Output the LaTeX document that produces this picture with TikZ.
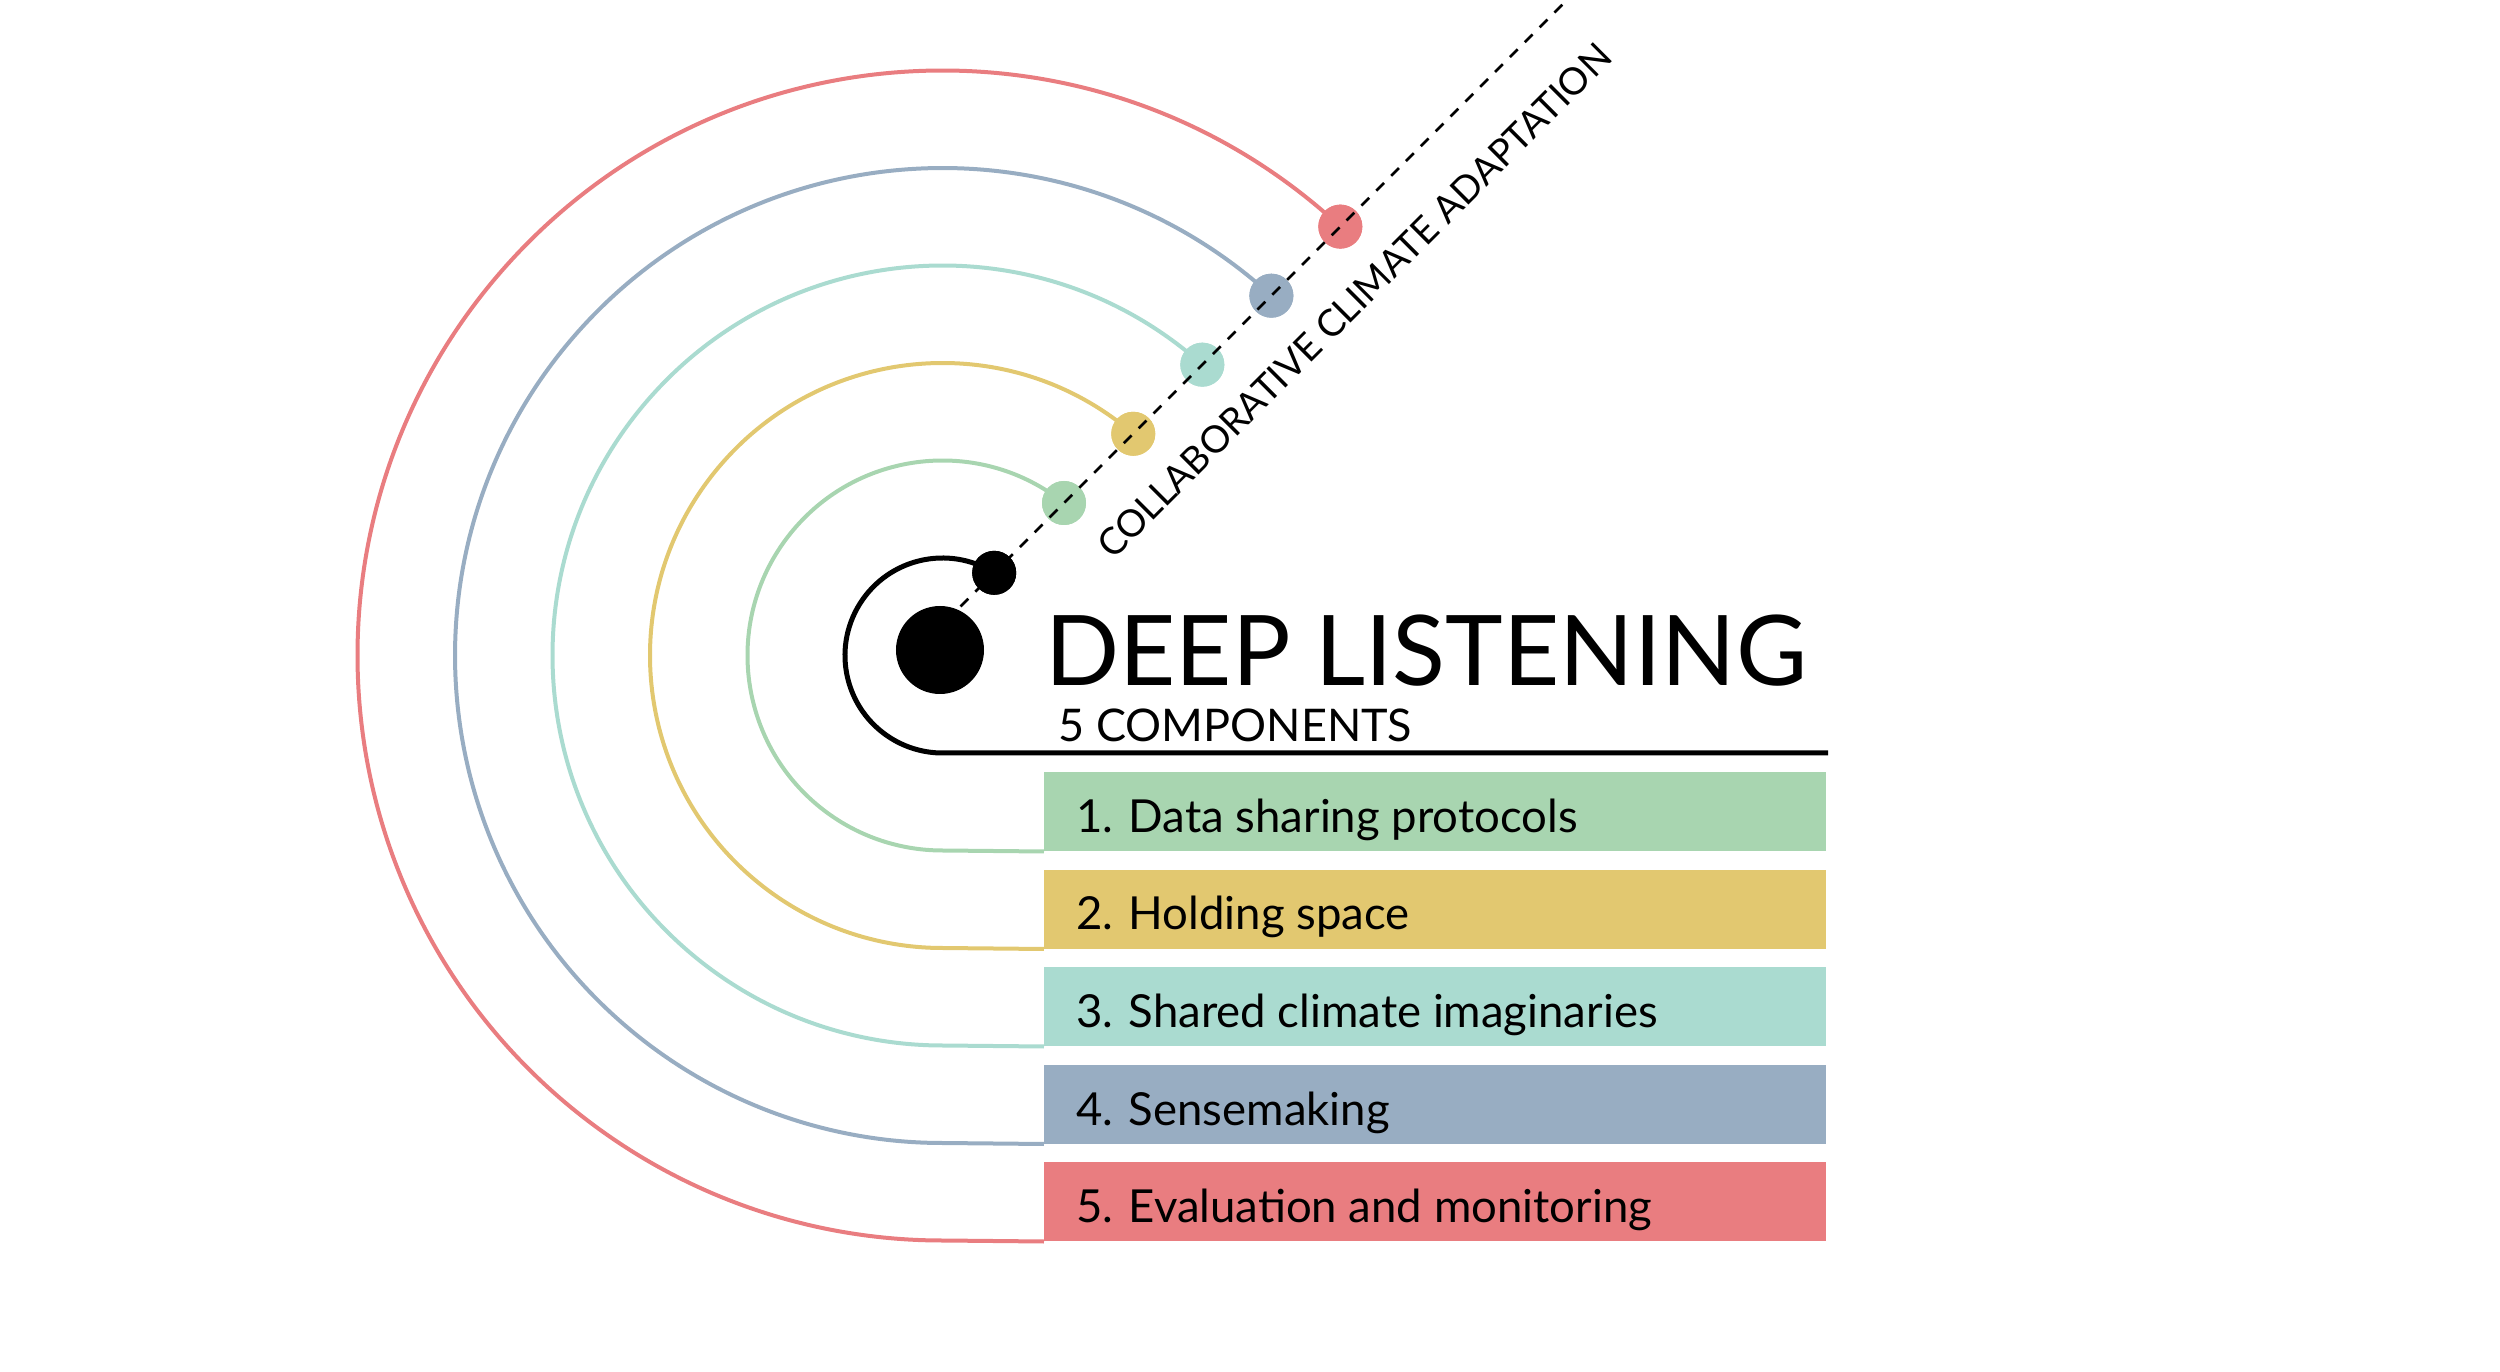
\documentclass[tikz,border=0pt]{standalone}
\usepackage{fontspec}
\setmainfont{Lato}
\definecolor{cgreen}{HTML}{A8D5B0}
\definecolor{cyellow}{HTML}{E2C870}
\definecolor{cteal}{HTML}{AADBD0}
\definecolor{cblue}{HTML}{98ADC2}
\definecolor{cred}{HTML}{E97D80}
\begin{document}
\begin{tikzpicture}[x=1pt,y=1pt,
  arcline/.style={line width=4pt},
  dotstyle/.style={circle, inner sep=0pt, minimum size=44pt},
  compbox/.style={rectangle, inner sep=0pt, minimum width=782pt, minimum height=79pt, anchor=south west},
  boxtext/.style={anchor=base west, inner sep=0pt, font=\fontsize{45.5}{50}\selectfont},
  dashline/.style={line width=2.5pt, dash pattern=on 11pt off 10pt}]
\useasboundingbox (-942.5,-716.5) rectangle (1557.5,655.5);

% big central dot
\node[circle, fill=black, inner sep=0pt, minimum size=88pt] (big) at (-2.5,5.5) {};

% small dots on the dashed line
\node[dotstyle, fill=black]   (d1) at (57.98:97.5) {};
\node[dotstyle, fill=cgreen]  (d2) at (51.45:195) {};
\node[dotstyle, fill=cyellow] (d3) at (49.29:292.5) {};
\node[dotstyle, fill=cteal]   (d4) at (48.22:390) {};
\node[dotstyle, fill=cblue]   (d5) at (47.57:487.5) {};
\node[dotstyle, fill=cred]    (d6) at (47.15:585) {};

% component boxes
\node[compbox, fill=cgreen]  (b1) at (101.5,-196) {};
\node[compbox, fill=cyellow] (b2) at (101.5,-293.5) {};
\node[compbox, fill=cteal]   (b3) at (101.5,-391) {};
\node[compbox, fill=cblue]   (b4) at (101.5,-488.5) {};
\node[compbox, fill=cred]    (b5) at (101.5,-586) {};

\node[boxtext] (t1) at (133.5,-177) {1. Data sharing protocols};
\node[boxtext] (t2) at (133.5,-274.5) {2. Holding space};
\node[boxtext] (t3) at (133.5,-372) {3. Shared climate imaginaries};
\node[boxtext] (t4) at (133.5,-469.5) {4. Sensemaking};
\node[boxtext] (t5) at (133.5,-567) {5. Evaluation and monitoring};

% arcs
\coordinate (uend) at (885.5,-97.5);
\draw[line width=5pt, black] (d1.center) arc[start angle=57.98, end angle=270, radius=97.5] -- (uend);
\draw[arcline, cgreen]  (d2.center) arc[start angle=51.45, end angle=270, radius=195] -- (b1.south west);
\draw[arcline, cyellow] (d3.center) arc[start angle=49.29, end angle=270, radius=292.5] -- (b2.south west);
\draw[arcline, cteal]   (d4.center) arc[start angle=48.22, end angle=270, radius=390] -- (b3.south west);
\draw[arcline, cblue]   (d5.center) arc[start angle=47.57, end angle=270, radius=487.5] -- (b4.south west);
\draw[arcline, cred]    (d6.center) arc[start angle=47.15, end angle=270, radius=585] -- (b5.south west);

% redraw dots above arcs
\node[dotstyle, fill=black]   at (d1) {};
\node[dotstyle, fill=cgreen]  at (d2) {};
\node[dotstyle, fill=cyellow] at (d3) {};
\node[dotstyle, fill=cteal]   at (d4) {};
\node[dotstyle, fill=cblue]   at (d5) {};
\node[dotstyle, fill=cred]    at (d6) {};

% dashed line
\coordinate (lstart) at (18,49);
\coordinate (lend) at (624.5,655.5);
\draw[dashline] (lstart) -- (lend);

% titles
\node[anchor=base west, inner sep=0pt, font=\fontsize{97.5}{100}\selectfont] (title) at (102.5,-30.5) {DEEP LISTENING};
\node[anchor=base west, inner sep=0pt, font=\fontsize{45}{48}\selectfont] (sub) at (116,-86.5) {5 COMPONENTS};
\node[anchor=west, inner sep=0pt, rotate=45, font=\fontsize{37.5}{42}\selectfont] (cca) at (161,104) {COLLABORATIVE CLIMATE ADAPTATION};
\end{tikzpicture}
\end{document}
